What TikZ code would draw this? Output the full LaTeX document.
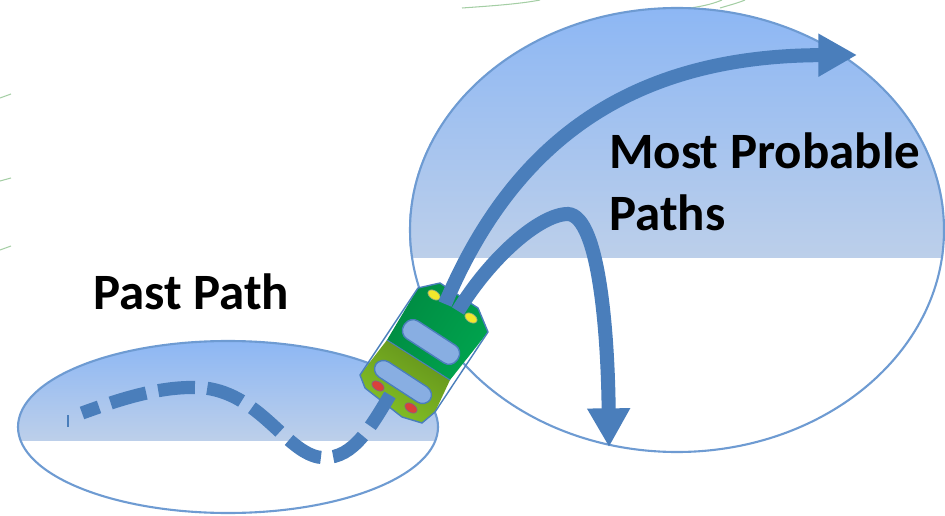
\documentclass[tikz,border=0pt]{standalone}
\usepackage{fontspec}
\setmainfont{Carlito}
\usetikzlibrary{arrows.meta,positioning,shapes.geometric}
\definecolor{path_blue}{HTML}{4A7EBB}
\definecolor{edge_blue}{HTML}{6E9BD2}
\definecolor{region_top}{HTML}{8DB7F4}
\definecolor{region_low}{HTML}{BCCFEA}
\definecolor{body_dark}{HTML}{00A44E}
\definecolor{body_light}{HTML}{84C225}
\definecolor{window_blue}{HTML}{88AEE2}
\definecolor{lamp_red}{HTML}{D9413A}
\definecolor{lamp_yellow}{HTML}{F2E82C}
\tikzset{
    % outline of the two regions
    region_edge/.style={draw=edge_blue, line width=1.2pt},
    % the thick paths
    main_path/.style={draw=path_blue, line width=8pt, -{Triangle[length=22pt,width=23pt]}},
    past_path/.style={draw=path_blue, line width=7.5pt, dash pattern=on 21pt off 7pt},
    % the pills on the vehicle
    car_window/.style={draw=path_blue, fill=window_blue, line width=0.8pt, rounded corners=5.5pt, rotate=-33},
    car_lamp/.style={draw=path_blue!60!#1, fill=#1, ellipse, inner sep=0pt, minimum width=0.27cm, minimum height=0.17cm, rotate=-33},
    label_text/.style={font=\bfseries\fontsize{29}{29}\selectfont, text=black, align=left, anchor=west},
    wisp/.style={draw=green!30!gray!55, line width=0.6pt}
}
\begin{document}
\begin{tikzpicture}[x=0.02cm,y=-0.02cm]
        \useasboundingbox (0,0) rectangle (945,516);

        % --- 1. Stray lines at the edges ---
        \draw[wisp] (0,98) -- (11,94);
        \draw[wisp] (0,181) -- (11,178);
        \draw[wisp] (0,250) -- (11,246);
        \draw[wisp] (462,8) .. controls (490,6) and (520,4) .. (540,0);
        \draw[wisp] (690,8) .. controls (705,6) and (715,3) .. (722,0);
        \draw[wisp] (720,8) .. controls (730,5) and (738,3) .. (745,0);

        % --- 2. The two regions ---
        \begin{scope}
            \clip (677,230) ellipse [x radius=268, y radius=222];
            \shade[top color=region_top, bottom color=region_low] (400,8) rectangle (945,258);
        \end{scope}
        \draw[region_edge] (677,230) ellipse [x radius=267, y radius=222];

        \begin{scope}
            \clip (228,427) ellipse [x radius=210, y radius=86];
            \shade[top color=region_top, bottom color=region_low] (10,341) rectangle (440,440);
        \end{scope}
        \draw[region_edge] (228,427) ellipse [x radius=210, y radius=86];

        % --- 3. The vehicle ---
        \shade[top color=body_dark, bottom color=body_dark!85!black, shading angle=-123]
            (418,288) -- (440,283) -- (478,308) -- (488,332) -- (450,380) -- (387,340) -- cycle;
        \shade[top color=body_light!75!black, bottom color=body_light, shading angle=-33]
            (387,340) -- (450,380) -- (435,412) -- (422,423) -- (402,417) -- (365,388) -- (360,375) -- cycle;
        \draw[path_blue, line width=0.8pt, line join=round]
            (418,288) -- (440,283) -- (478,308) -- (488,332) -- (435,412) -- (422,423) -- (402,417) -- (365,388) -- (360,375) -- cycle;
        \draw[path_blue, line width=0.6pt] (387,340) -- (450,380);

        \node[car_window, minimum width=1.27cm, minimum height=0.42cm] (upper_window) at (431,342) {};
        \node[car_window, minimum width=1.3cm, minimum height=0.36cm] (lower_window) at (403,382) {};
        \node[car_lamp=lamp_yellow] (lamp_left) at (434,295) {};
        \node[car_lamp=lamp_yellow] (lamp_right) at (471,318) {};
        \node[car_lamp=lamp_red] (rear_left) at (378,386) {};
        \node[car_lamp=lamp_red] (rear_right) at (411,408) {};

        % --- 4. The paths ---
        \coordinate (hitch) at (390,395);
        \coordinate (past_end) at (82,413);
        \coordinate (past_tick_a) at (68,415);
        \coordinate (past_tick_b) at (68,427);
        \coordinate (front_left) at (445,304);
        \coordinate (front_right) at (458,311);
        \coordinate (far_tip) at (857,55);
        \coordinate (low_tip) at (609,447);

        \draw[past_path] (hitch) .. controls (368,432) and (350,462) .. (318,457)
            .. controls (285,450) and (260,395) .. (205,388)
            .. controls (160,384) and (110,403) .. (past_end);
        \draw[draw=path_blue, line width=1pt] (past_tick_a) -- (past_tick_b);
        \draw[main_path] (front_left) .. controls (505,162) and (610,56) .. (far_tip);
        \draw[main_path] (front_right) .. controls (490,258) and (540,214) .. (568,214)
            .. controls (600,216) and (608,340) .. (low_tip);

        % --- 5. The labels ---
        \node[label_text] (past_label) at (87,292) {Past Path};
        \node[label_text] (most_label) at (603,151) {Most Probable};
        \node[label_text] (paths_label) at (603,213) {Paths};
    \end{tikzpicture}
\end{document}
